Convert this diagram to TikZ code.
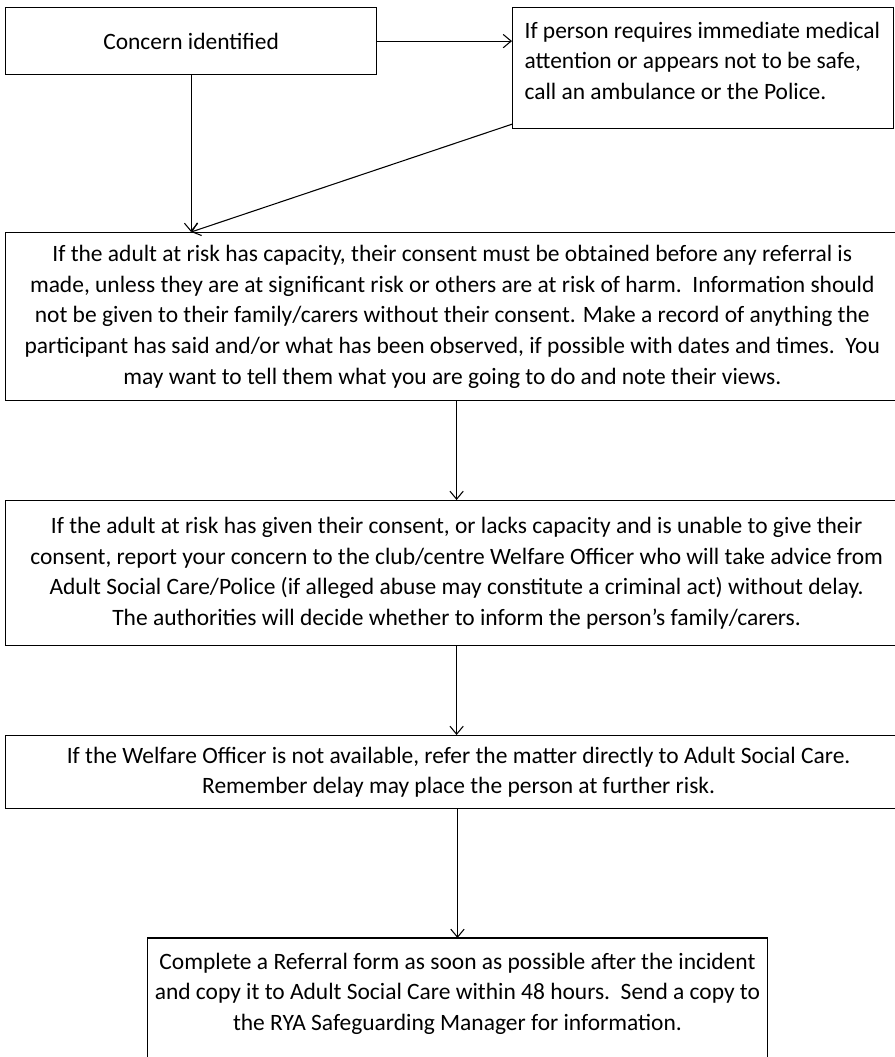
\documentclass[tikz,border=0pt]{standalone}
\usepackage{fontspec}
\setmainfont{Carlito}
\usetikzlibrary{arrows.meta,positioning}
\tikzset{>={Straight Barb[length=6pt,width=10pt]}}
\tikzset{stepbox/.style={draw,line width=0.9pt,anchor=north west,align=flush center,inner sep=0pt,font=\fontsize{17.6}{23}\selectfont}}
\tikzset{boxline/.style={line width=0.9pt}}

\begin{document}
\begin{tikzpicture}[thick]
      \useasboundingbox (0,0) rectangle (670.5pt,-792.75pt);
      \node[stepbox,minimum width=278.25pt,minimum height=50.25pt] (concern) at (3.75pt,-5.25pt) {Concern identified};
      \node[stepbox,align=flush left,inner xsep=9pt,text width=267.75pt,minimum height=90.75pt] (medical) at (384pt,-5.25pt)
        {If person requires immediate medical\\attention or appears not to be safe,\\call an ambulance or the Police.\rule[-11pt]{0pt}{11pt}};
      \node[stepbox,minimum width=670pt,minimum height=126pt] (consent) at (3.75pt,-174pt)
        {If the adult at risk has capacity, their consent must be obtained before any referral is\\
         made, unless they are at significant risk or others are at risk of harm.\ \ Information should\\
         not be given to their family/carers without their consent. Make a record of anything the\\
         participant has said and/or what has been observed, if possible with dates and times.\ \ You\\
         may want to tell them what you are going to do and note their views.};
      \node[stepbox,minimum width=676.5pt,minimum height=108.75pt] (report) at (3.75pt,-375pt)
        {If the adult at risk has given their consent, or lacks capacity and is unable to give their\\
         consent, report your concern to the club/centre Welfare Officer who will take advice from\\
         Adult Social Care/Police (if alleged abuse may constitute a criminal act) without delay.\\
         The authorities will decide whether to inform the person’s family/carers.};
      \node[stepbox,minimum width=679.5pt,minimum height=54.75pt] (welfare) at (3.75pt,-551.25pt)
        {If the Welfare Officer is not available, refer the matter directly to Adult Social Care.\\
         Remember delay may place the person at further risk.};
      \node[stepbox,draw=none,anchor=north,minimum width=464pt,minimum height=82.5pt] (referral) at (343.1pt,-703.5pt)
        {Complete a Referral form as soon as possible after the incident\\
         and copy it to Adult Social Care within 48 hours.\ \ Send a copy to\\
         the RYA Safeguarding Manager for information.};
      \draw[boxline] ([yshift=-30pt]referral.south west) -- (referral.north west) -- (referral.north east) -- ([yshift=-30pt]referral.south east);
      \coordinate (hit) at (concern.south |- consent.north);
      \draw[->] (concern.east) -- (concern.east -| medical.west);
      \draw[->] (concern.south) -- (hit);
      \draw[->] ([yshift=3.75pt]medical.south west) -- (hit);
      \draw[->] (consent.south -| report.north) -- (report.north);
      \draw[->] (report.south) -- (report.south |- welfare.north);
      \draw[->] (welfare.south -| referral.north) -- (referral.north);
    \end{tikzpicture}
\end{document}
